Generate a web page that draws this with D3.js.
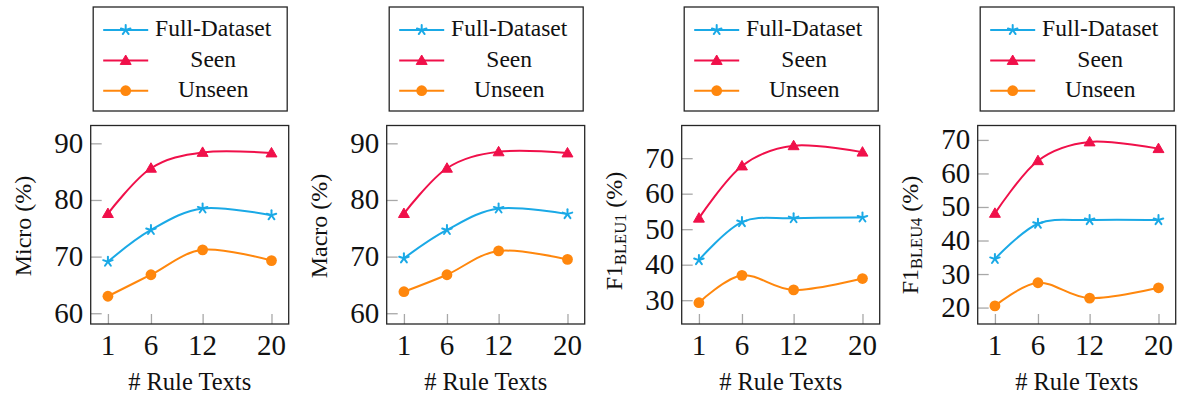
<!DOCTYPE html>
<html><head><meta charset="utf-8">
<script src="https://cdn.jsdelivr.net/npm/d3@7"></script>
<style>
html,body{margin:0;padding:0;background:#fff;}
svg{display:block;}
</style></head>
<body>
<svg id="chart" width="1177" height="394"></svg>
<script>
// ---- data ----
const ruleTexts = [1, 6, 12, 20];
const seriesNames = ["Full-Dataset", "Seen", "Unseen"];

const microFull   = [69.1, 74.7, 78.5, 77.3];
const microSeen   = [77.6, 85.6, 88.4, 88.3];
const microUnseen = [63.0, 66.8, 71.2, 69.3];

const macroFull   = [69.7, 74.7, 78.5, 77.5];
const macroSeen   = [77.6, 85.6, 88.5, 88.3];
const macroUnseen = [63.8, 66.8, 71.0, 69.5];

const bleu1Full   = [41.3, 52.0, 53.1, 53.3];
const bleu1Seen   = [53.1, 67.8, 73.5, 71.7];
const bleu1Unseen = [29.3, 37.0, 32.9, 36.1];

const bleu4Full   = [34.5, 45.0, 46.1, 46.1];
const bleu4Seen   = [48.1, 63.8, 69.4, 67.4];
const bleu4Unseen = [20.5, 27.4, 22.8, 25.9];

const microTicks = [60, 70, 80, 90];
const macroTicks = [60, 70, 80, 90];
const bleu1Ticks = [30, 40, 50, 60, 70];
const bleu4Ticks = [20, 30, 40, 50, 60, 70];

const xLabel = "# Rule Texts";

// ---- styling / layout ----
const FONT = "'Liberation Serif', Tinos, 'Times New Roman', Times, 'DejaVu Serif', serif";
const colors = ["#1aa9e6", "#f0104a", "#ff870d"];
const markers = ["star", "triangle", "circle"];

const panels = [
  {label: [["Micro (%)", 0]], series: [microFull, microSeen, microUnseen], ticks: microTicks, ydom: [58.1, 93.15], left: 90.7, labelCy: 226},
  {label: [["Macro (%)", 0]], series: [macroFull, macroSeen, macroUnseen], ticks: macroTicks, ydom: [58.1, 93.15], left: 386.7, labelCy: 226},
  {label: [["F1", 0], ["BLEU1", 1], [" (%)", 2]], series: [bleu1Full, bleu1Seen, bleu1Unseen], ticks: bleu1Ticks, ydom: [23.3, 79.2], left: 681.7, labelCy: 231},
  {label: [["F1", 0], ["BLEU4", 1], [" (%)", 2]], series: [bleu4Full, bleu4Seen, bleu4Unseen], ticks: bleu4Ticks, ydom: [15.1, 74.3], left: 977.7, labelCy: 235}
];

const W = 198, plotTop = 125.5, plotBottom = 324;
const svg = d3.select("#chart");

function drawMarker(g, type, x, y, color) {
  if (type === "star") {
    const r = 5;
    for (let k = 0; k < 5; k++) {
      const a = -Math.PI / 2 + k * 2 * Math.PI / 5;
      g.append("line").attr("x1", x).attr("y1", y)
        .attr("x2", x + r * Math.cos(a)).attr("y2", y + r * Math.sin(a))
        .attr("stroke", color).attr("stroke-width", 2).attr("stroke-linecap", "round");
    }
  } else if (type === "triangle") {
    const r = 6.3;
    const pts = [0, 1, 2].map(k => {
      const a = -Math.PI / 2 + k * 2 * Math.PI / 3;
      return [x + r * Math.cos(a), y + r * Math.sin(a) + 0.8];
    });
    g.append("path").attr("d", "M" + pts.map(p => p.join(",")).join("L") + "Z")
      .attr("fill", color).attr("stroke", color).attr("stroke-width", 1);
  } else {
    g.append("circle").attr("cx", x).attr("cy", y).attr("r", 5.4).attr("fill", color);
  }
}

function txt(sel) {
  return sel.attr("font-family", FONT).attr("fill", "#111");
}

panels.forEach(p => {
  const x = d3.scaleLinear().domain([-1, 22]).range([p.left, p.left + W]);
  const y = d3.scaleLinear().domain(p.ydom).range([plotBottom, plotTop]);
  const g = svg.append("g");

  // ticks (inside, gray)
  const yAxis = d3.axisLeft(y).tickValues(p.ticks).tickSize(-11).tickPadding(0).tickFormat("");
  g.append("g").attr("transform", `translate(${p.left},0)`).call(yAxis)
    .call(s => s.select(".domain").remove())
    .call(s => s.selectAll("line").attr("stroke", "#a8a8a8").attr("stroke-width", 1.3));
  const xAxis = d3.axisBottom(x).tickValues(ruleTexts).tickSize(-10).tickFormat("");
  g.append("g").attr("transform", `translate(0,${plotBottom})`).call(xAxis)
    .call(s => s.select(".domain").remove())
    .call(s => s.selectAll("line").attr("stroke", "#a8a8a8").attr("stroke-width", 1.3));

  // tick labels
  txt(g.selectAll(".ytl").data(p.ticks).enter().append("text"))
    .attr("x", p.left - 7.5).attr("y", d => y(d) + 9.5)
    .attr("text-anchor", "end").attr("font-size", 29).text(d => d);
  txt(g.selectAll(".xtl").data(ruleTexts).enter().append("text"))
    .attr("x", d => x(d)).attr("y", 355)
    .attr("text-anchor", "middle").attr("font-size", 29).text(d => d);

  // box
  g.append("rect").attr("x", p.left).attr("y", plotTop).attr("width", W).attr("height", plotBottom - plotTop)
    .attr("fill", "none").attr("stroke", "#262626").attr("stroke-width", 1.3);

  // lines
  const line = d3.line().x((d, i) => x(ruleTexts[i])).y(d => y(d)).curve(d3.curveCardinal.tension(0));
  p.series.forEach((vals, si) => {
    g.append("path").attr("d", line(vals)).attr("fill", "none")
      .attr("stroke", colors[si]).attr("stroke-width", 2);
    vals.forEach((v, i) => drawMarker(g, markers[si], x(ruleTexts[i]), y(v), colors[si]));
  });

  // axis labels
  txt(g.append("text")).attr("x", p.left + W / 2).attr("y", 390).attr("text-anchor", "middle")
    .attr("font-size", 24.5).text(xLabel);
  const yl = txt(g.append("text")).attr("transform", `translate(${p.left - 60},${p.labelCy}) rotate(-90)`)
    .attr("text-anchor", "middle").attr("font-size", 24);
  p.label.forEach(([t, kind]) => {
    const ts = yl.append("tspan").text(t);
    if (kind === 1) ts.attr("font-size", 16.5).attr("dy", 4);
    if (kind === 2) ts.attr("dy", -4);
  });

  // legend
  const lx = p.left + 2.5, ly = 7, lw = 194, lh = 104;
  const lg = g.append("g");
  lg.append("rect").attr("x", lx).attr("y", ly).attr("width", lw).attr("height", lh)
    .attr("fill", "#fff").attr("stroke", "#262626").attr("stroke-width", 1.3);
  const rows = [30, 60.5, 90.7];
  seriesNames.forEach((name, si) => {
    lg.append("line").attr("x1", lx + 10).attr("x2", lx + 55).attr("y1", rows[si]).attr("y2", rows[si])
      .attr("stroke", colors[si]).attr("stroke-width", 2);
    drawMarker(lg, markers[si], lx + 32.5, rows[si], colors[si]);
    txt(lg.append("text")).attr("x", lx + 120).attr("y", rows[si] + 6).attr("text-anchor", "middle")
      .attr("font-size", 23.5).text(name);
  });
});
</script>
</body></html>
